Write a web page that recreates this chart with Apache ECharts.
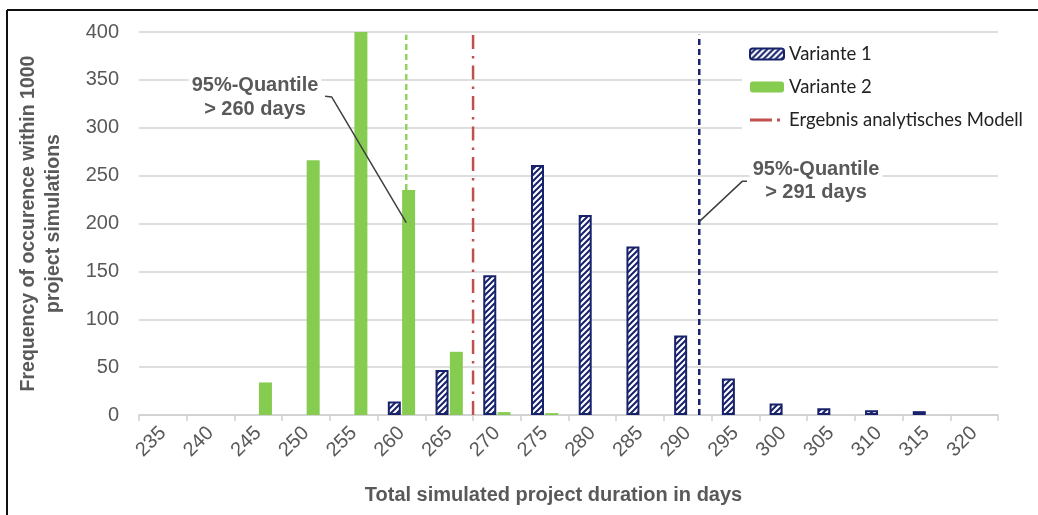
<!DOCTYPE html>
<html>
<head>
<meta charset="utf-8">
<script src="https://cdn.jsdelivr.net/npm/echarts@6/dist/echarts.min.js"></script>
<style>
  html, body { margin: 0; padding: 0; background: #ffffff; }
  #chart { width: 1038px; height: 515px; }
</style>
</head>
<body>
<div id="chart"></div>
<script>
// ---- data ----
const categories = ['235','240','245','250','255','260','265','270','275','280','285','290','295','300','305','310','315','320'];
const variante1 = [0, 0, 0, 0, 0, 14, 47, 146, 261, 209, 176, 83, 38, 12, 7, 5, 4, 0];
const variante2 = [0, 0, 34, 266, 400, 235, 66, 3, 2, 0, 0, 0, 0, 0, 0, 0, 0, 0];
const seriesNames = ['Variante 1', 'Variante 2', 'Ergebnis analytisches Modell'];
const quantileV2 = 260.5;     // days (95%-quantile, Variante 2)
const quantileV2Top = 397;
const quantileV2Bottom = 235;
const quantileV1 = 291.2;     // days (95%-quantile, Variante 1)
const quantileV1Top = 397;
const analyticResult = 267.5; // days
const yMin = 0, yMax = 400, yInterval = 50;
const annotation1 = ['95%-Quantile', '> 260 days'];
const annotation2 = ['95%-Quantile', '> 291 days'];
// leader lines in data space [days, frequency]
const leader1 = [[252.0, 333], [252.7, 332], [260.5, 201]];
const leader2 = [[291.2, 202], [295.7, 244], [296.2, 244]];

// ---- styles ----
const navy = '#17226b';
const green = '#86cc50';
const greenLine = '#8fd45c';
const red = '#c0504d';
const gray = '#595959';

function hatch() {
  const c = document.createElement('canvas');
  const s = 6;
  c.width = s; c.height = s;
  const g = c.getContext('2d');
  g.fillStyle = '#ffffff';
  g.fillRect(0, 0, s, s);
  g.strokeStyle = navy;
  g.lineWidth = 2;
  g.beginPath();
  g.moveTo(-1, s + 1); g.lineTo(s + 1, -1);
  g.moveTo(-1, 1); g.lineTo(1, -1);
  g.moveTo(s - 1, s + 1); g.lineTo(s + 1, s - 1);
  g.stroke();
  return c;
}

const nz = a => a.map(v => (v === 0 ? null : v));
const chart = echarts.init(document.getElementById('chart'), null, { renderer: 'canvas' });

const days0 = Number(categories[0]);
const step = Number(categories[1]) - days0;

const redIcon = 'path://M0,0L0.05,0L0,0.05Z M0,4L22,4L22,7L0,7Z M27,4L30,4L30,7L27,7Z M33.95,11L34,11L34,10.95Z';

chart.setOption({
  animation: false,
  backgroundColor: '#ffffff',
  grid: { left: 139, right: 40, top: 32, bottom: 100, outerBoundsMode: 'none', containLabel: false },
  legend: {
    data: [
      { name: seriesNames[0] },
      { name: seriesNames[1] },
      { name: seriesNames[2], icon: redIcon, itemStyle: { color: red } }
    ],
    orient: 'vertical',
    left: 742,
    top: 39,
    padding: [4, 8, 4, 7],
    backgroundColor: '#ffffff',
    itemWidth: 34,
    itemHeight: 11,
    itemGap: 11,
    textStyle: { fontFamily: 'Lato', fontSize: 18.5, color: '#222222', lineHeight: 22 },
    selectedMode: false
  },
  xAxis: [
    {
      type: 'category',
      data: categories,
      boundaryGap: true,
      axisLine: { lineStyle: { color: '#d0d0d0', width: 1.5 } },
      axisTick: { show: true, length: 6, lineStyle: { color: '#d0d0d0', width: 1.5 } },
      axisLabel: { rotate: 45, margin: 15, fontFamily: 'Liberation Sans', fontSize: 20, color: gray },
      name: 'Total simulated project duration in days',
      nameLocation: 'middle',
      nameGap: 70,
      nameTextStyle: { fontFamily: 'Liberation Sans', fontWeight: 'bold', fontSize: 20, color: gray, padding: [0, 30, 0, 0] }
    },
    {
      type: 'value',
      min: days0 - step / 2,
      max: Number(categories[categories.length - 1]) + step / 2,
      show: false
    }
  ],
  yAxis: {
    type: 'value',
    min: yMin, max: yMax, interval: yInterval,
    axisLine: { show: false },
    axisTick: { show: false },
    axisLabel: { margin: 20, fontFamily: 'Liberation Sans', fontSize: 20, color: gray },
    splitLine: { lineStyle: { color: '#d3d3d3', width: 1.5 } },
    name: 'Frequency of occurence within 1000\nproject simulations',
    nameLocation: 'middle',
    nameGap: 73,
    nameTextStyle: { fontFamily: 'Liberation Sans', fontWeight: 'bold', fontSize: 19.5, color: gray, lineHeight: 25 }
  },
  series: [
    {
      name: seriesNames[0],
      type: 'bar',
      data: nz(variante1),
      barWidth: 13,
      barGap: '10%',
      itemStyle: { color: { image: hatch(), repeat: 'repeat' }, borderColor: navy, borderWidth: 2 },
      z: 3
    },
    {
      name: seriesNames[1],
      type: 'bar',
      data: nz(variante2),
      barWidth: 13,
      barGap: '10%',
      itemStyle: { color: green },
      z: 3
    },
    {
      name: seriesNames[2],
      type: 'line',
      xAxisIndex: 1,
      data: [[analyticResult, yMin], [analyticResult, yMax]],
      symbol: 'none',
      lineStyle: { color: red, width: 2.5, type: [14, 7, 2.5, 7] },
      itemStyle: { color: red },
      z: 2
    },
    {
      name: 'q2',
      type: 'line',
      xAxisIndex: 1,
      data: [[quantileV2, quantileV2Bottom], [quantileV2, quantileV2Top]],
      symbol: 'none',
      lineStyle: { color: greenLine, width: 2.5, type: [6, 4] },
      z: 2
    },
    {
      name: 'q1',
      type: 'line',
      xAxisIndex: 1,
      data: [[quantileV1, yMin], [quantileV1, quantileV1Top]],
      symbol: 'none',
      lineStyle: { color: navy, width: 2.5, type: [6, 4] },
      z: 2
    },
    {
      name: 'l1',
      type: 'line',
      xAxisIndex: 1,
      data: leader1,
      symbol: 'none',
      lineStyle: { color: '#404040', width: 1.5 },
      z: 4
    },
    {
      name: 'l2',
      type: 'line',
      xAxisIndex: 1,
      data: leader2,
      symbol: 'none',
      lineStyle: { color: '#404040', width: 1.5 },
      z: 4
    }
  ],
  graphic: [
    { type: 'line', shape: { x1: 7, y1: 10, x2: 1038, y2: 10 }, style: { stroke: '#111111', lineWidth: 2 }, z: 10 },
    { type: 'line', shape: { x1: 7, y1: 10, x2: 7, y2: 515 }, style: { stroke: '#111111', lineWidth: 2 }, z: 10 },
    {
      type: 'text', x: 255, y: 97, z: 10,
      style: {
        text: annotation1.join('\n'), x: 0, y: 0,
        font: 'bold 20px "Liberation Sans"', fill: gray,
        align: 'center', verticalAlign: 'middle', lineHeight: 24,
        backgroundColor: '#ffffff', padding: [1, 3, 1, 3]
      }
    },
    {
      type: 'text', x: 816, y: 181, z: 10,
      style: {
        text: annotation2.join('\n'), x: 0, y: 0,
        font: 'bold 20px "Liberation Sans"', fill: gray,
        align: 'center', verticalAlign: 'middle', lineHeight: 23,
        backgroundColor: '#ffffff', padding: [1, 3, 1, 3]
      }
    }
  ]
});
</script>
</body>
</html>
